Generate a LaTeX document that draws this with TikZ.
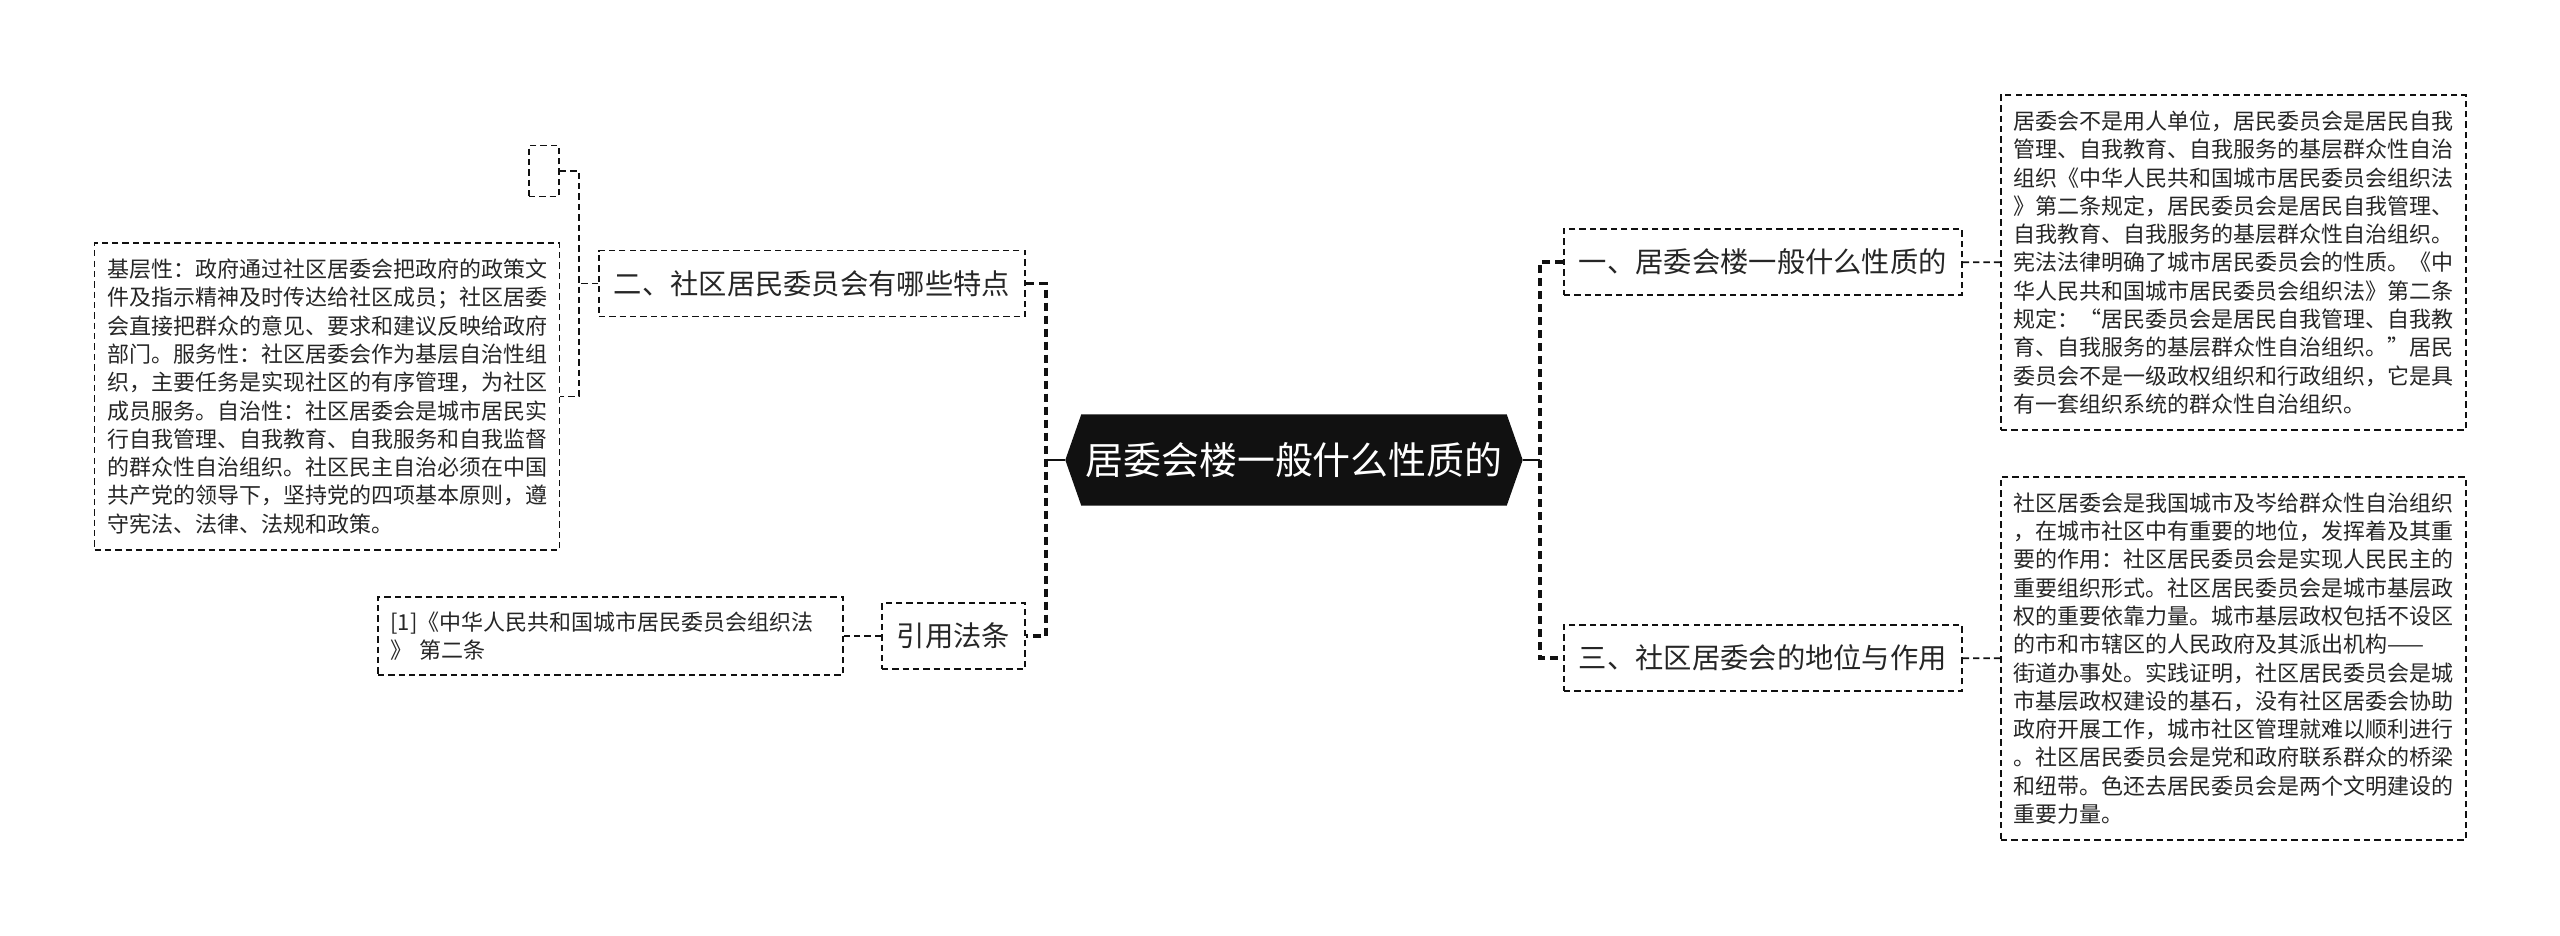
\documentclass[tikz,border=0pt]{standalone}
\usepackage{fontspec}
\setmainfont{Noto Sans CJK SC}
\usepackage{tikz}
\usetikzlibrary{positioning,calc,backgrounds}
\definecolor{jwInk}{HTML}{111111}
\definecolor{jwText}{HTML}{262626}
\definecolor{jwLine}{HTML}{111111}

\begin{document}
\begin{tikzpicture}[
    hub/.style={text=white,minimum width=4.56cm,minimum height=0.9cm,
                inner sep=0pt,font=\fontsize{10.8}{13}\selectfont},
    topic/.style={draw=jwLine,line width=0.55pt,dash pattern=on 1.8pt off 1.15pt,text=jwText,
                  minimum height=0.66cm,inner xsep=0.15cm,inner ysep=0pt,
                  font=\fontsize{8.05}{9.5}\selectfont},
    note/.style={draw=jwLine,line width=0.55pt,dash pattern=on 1.8pt off 1.15pt,text=jwText,
                 text width=4.4cm,align=left,inner xsep=0.125cm,inner ysep=0pt,
                 font=\fontsize{6.26}{8.05}\selectfont},
    blank/.style={draw=jwLine,line width=0.55pt,dash pattern=on 1.8pt off 1.15pt,
                  minimum width=0.3cm,minimum height=0.51cm,inner sep=0pt},
    stem/.style={jwLine,line width=0.75pt},
    trunk/.style={jwLine,line width=0.95pt,dash pattern=on 2.3pt off 1.4pt},
    link/.style={jwLine,line width=0.55pt,dash pattern=on 1.8pt off 1.15pt}]

  \useasboundingbox (0,0) rectangle (25.6,-9.35);

  \node[hub] (root) at (12.94,-4.60) {居委会楼一般什么性质的};
  \begin{scope}[on background layer]
    \fill[jwInk] (root.west) -- ([xshift=0.16cm]root.north west) -- ([xshift=-0.16cm]root.north east)
      -- (root.east) -- ([xshift=-0.16cm]root.south east) -- ([xshift=0.16cm]root.south west) -- cycle;
  \end{scope}

  \node[topic,anchor=east] (n2) at (10.26,-2.835) {二、社区居民委员会有哪些特点};
  \node[topic,anchor=east] (ncite) at (10.26,-6.36) {引用法条};
  \node[topic,anchor=west] (n1) at (15.63,-2.62) {一、居委会楼一般什么性质的};
  \node[topic,anchor=west] (n3) at (15.63,-6.58) {三、社区居委会的地位与作用};

  \node[note,minimum height=3.35cm] (t1) at (22.335,-2.625) {居委会不是用人单位，居民委员会是居民自我\\
    管理、自我教育、自我服务的基层群众性自治\\
    组织《中华人民共和国城市居民委员会组织法\\
    》第二条规定，居民委员会是居民自我管理、\\
    自我教育、自我服务的基层群众性自治组织。\\
    宪法法律明确了城市居民委员会的性质。《中\\
    华人民共和国城市居民委员会组织法》第二条\\
    规定：“居民委员会是居民自我管理、自我教\\
    育、自我服务的基层群众性自治组织。”居民\\
    委员会不是一级政权组织和行政组织，它是具\\
    有一套组织系统的群众性自治组织。};
  \node[note,minimum height=3.63cm] (t3) at (22.335,-6.585) {社区居委会是我国城市及岑给群众性自治组织\\
    ，在城市社区中有重要的地位，发挥着及其重\\
    要的作用：社区居民委员会是实现人民民主的\\
    重要组织形式。社区居民委员会是城市基层政\\
    权的重要依靠力量。城市基层政权包括不设区\\
    的市和市辖区的人民政府及其派出机构——\\
    街道办事处。实践证明，社区居民委员会是城\\
    市基层政权建设的基石，没有社区居委会协助\\
    政府开展工作，城市社区管理就难以顺利进行\\
    。社区居民委员会是党和政府联系群众的桥梁\\
    和纽带。色还去居民委员会是两个文明建设的\\
    重要力量。};
  \node[note,minimum height=3.07cm] (t2) at (3.27,-3.965) {基层性：政府通过社区居委会把政府的政策文\\
    件及指示精神及时传达给社区成员；社区居委\\
    会直接把群众的意见、要求和建议反映给政府\\
    部门。服务性：社区居委会作为基层自治性组\\
    织，主要任务是实现社区的有序管理，为社区\\
    成员服务。自治性：社区居委会是城市居民实\\
    行自我管理、自我教育、自我服务和自我监督\\
    的群众性自治组织。社区民主自治必须在中国\\
    共产党的领导下，坚持党的四项基本原则，遵\\
    守宪法、法律、法规和政策。};
  \node[blank] (t2e) at (5.44,-1.71) {};
  \node[note,minimum height=0.78cm] (tcite) at (6.105,-6.36) {[1]《中华人民共和国城市居民委员会组织法\\
    》 第二条};

  \coordinate (jl) at (10.46,-4.60);
  \coordinate (jr) at (15.40,-4.60);
  \coordinate (jm) at (5.79,-2.835);

  \draw[stem] (root.west) -- (jl);
  \draw[stem] (root.east) -- (jr);
  \draw[trunk] (n2.east) -| (jl) |- (ncite.east);
  \draw[trunk] (n1.west) -| (jr) |- (n3.west);
  \draw[link] (n1) -- (t1);
  \draw[link] (n3) -- (t3);
  \draw[link] (ncite) -- (tcite);
  \draw[link] (n2.west) -- (jm);
  \draw[link] (t2e.east) -| (jm) |- (t2.east);
\end{tikzpicture}
\end{document}
